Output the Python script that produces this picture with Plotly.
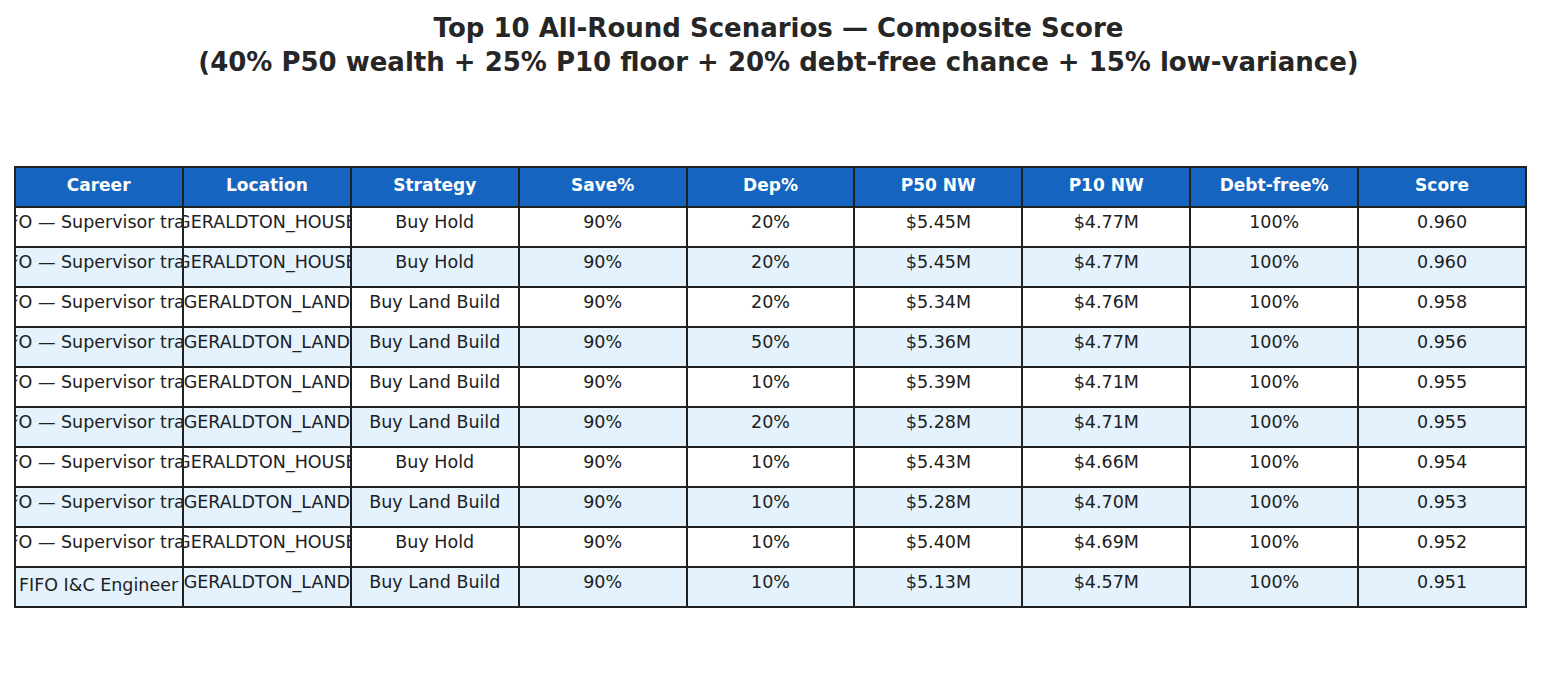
import plotly.graph_objects as go

careers = ["FIFO — Supervisor track"] * 9 + ["FIFO I&C Engineer"]
locations = ["GERALDTON_HOUSE", "GERALDTON_HOUSE", "GERALDTON_LAND", "GERALDTON_LAND",
             "GERALDTON_LAND", "GERALDTON_LAND", "GERALDTON_HOUSE", "GERALDTON_LAND",
             "GERALDTON_HOUSE", "GERALDTON_LAND"]
strategies = ["Buy Hold", "Buy Hold", "Buy Land Build", "Buy Land Build", "Buy Land Build",
              "Buy Land Build", "Buy Hold", "Buy Land Build", "Buy Hold", "Buy Land Build"]
save_pct = [90, 90, 90, 90, 90, 90, 90, 90, 90, 90]
dep_pct = [20, 20, 20, 50, 10, 20, 10, 10, 10, 10]
p50_nw = [5.45, 5.45, 5.34, 5.36, 5.39, 5.28, 5.43, 5.28, 5.40, 5.13]
p10_nw = [4.77, 4.77, 4.76, 4.77, 4.71, 4.71, 4.66, 4.70, 4.69, 4.57]
debt_free = [100, 100, 100, 100, 100, 100, 100, 100, 100, 100]
score = [0.960, 0.960, 0.958, 0.956, 0.955, 0.955, 0.954, 0.953, 0.952, 0.951]

headers = ["Career", "Location", "Strategy", "Save%", "Dep%", "P50 NW", "P10 NW", "Debt-free%", "Score"]

W, H = 1541, 691

# non-breaking spaces so long labels overflow (clipped) instead of wrapping
columns = [
    [c.replace(" ", "\u00a0") for c in careers],
    locations,
    [s.replace(" ", "\u00a0") for s in strategies],
    [f"{v}%" for v in save_pct],
    [f"{v}%" for v in dep_pct],
    [f"${v:.2f}M" for v in p50_nw],
    [f"${v:.2f}M" for v in p10_nw],
    [f"{v}%" for v in debt_free],
    [f"{v:.3f}" for v in score],
]

row_fill = ["#ffffff" if i % 2 == 0 else "#e3f2fd" for i in range(len(score))]

fig = go.Figure(go.Table(
    domain=dict(x=[7 / W, 1518 / W], y=[1 - 601 / H, 1 - 159 / H]),
    columnwidth=[1] * len(headers),
    header=dict(
        values=[f"<b>{h}</b>" for h in headers],
        fill_color="#1565c0",
        line=dict(color="#212121", width=2),
        font=dict(family="DejaVu Sans", size=17, color="white"),
        align="center",
        height=40,
    ),
    cells=dict(
        values=columns,
        fill_color=[row_fill] * len(headers),
        line=dict(color="#212121", width=2),
        font=dict(family="DejaVu Sans", size=17.5, color="#212121"),
        align="center",
        height=40,
    ),
))

fig.update_layout(
    width=W, height=H,
    margin=dict(l=0, r=0, t=0, b=0),
    paper_bgcolor="white",
    title=dict(
        text="<b>Top 10 All-Round Scenarios — Composite Score<br>"
             "(40% P50 wealth + 25% P10 floor + 20% debt-free chance + 15% low-variance)</b>",
        x=0.5, xanchor="center",
        y=1 - 29 / H, yanchor="top", yref="container",
        font=dict(family="DejaVu Sans", size=26, color="#262626"),
    ),
)

fig.write_html("out.html")
